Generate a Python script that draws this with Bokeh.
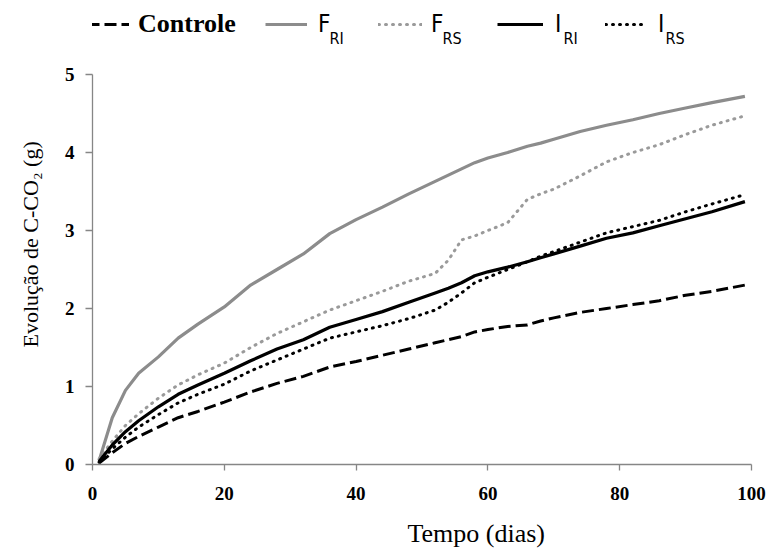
from bokeh.plotting import figure
from bokeh.layouts import column
from bokeh.models import (Range1d, FixedTicker, Legend, LegendItem, Label, Title,
                          ColumnDataSource)
from bokeh.core.properties import value
from bokeh.embed import file_html
from bokeh.resources import INLINE

# ---------------- data ----------------
dias = [1, 3, 5, 7, 10, 13, 16, 20, 24, 28, 32, 36, 40, 44, 48, 52, 54, 56, 58, 60,
        63, 66, 68, 70, 74, 78, 82, 86, 90, 94, 99]
controle = [0.02, 0.15, 0.27, 0.36, 0.48, 0.60, 0.68, 0.80, 0.93, 1.04, 1.13, 1.25, 1.32,
            1.40, 1.48, 1.56, 1.60, 1.64, 1.70, 1.73, 1.77, 1.79, 1.84, 1.88, 1.95, 2.00,
            2.05, 2.10, 2.17, 2.22, 2.30]
f_ri = [0.05, 0.60, 0.95, 1.17, 1.38, 1.62, 1.80, 2.02, 2.30, 2.50, 2.70, 2.96, 3.14,
        3.30, 3.47, 3.63, 3.71, 3.79, 3.87, 3.93, 4.00, 4.08, 4.12, 4.17, 4.27, 4.35,
        4.42, 4.50, 4.57, 4.64, 4.72]
f_rs = [0.07, 0.30, 0.50, 0.65, 0.85, 1.02, 1.15, 1.30, 1.50, 1.68, 1.83, 1.98, 2.10,
        2.22, 2.35, 2.45, 2.62, 2.88, 2.93, 3.00, 3.10, 3.40, 3.47, 3.53, 3.70, 3.88,
        4.00, 4.10, 4.23, 4.35, 4.47]
i_ri = [0.04, 0.25, 0.42, 0.56, 0.74, 0.90, 1.02, 1.17, 1.33, 1.48, 1.60, 1.76, 1.86,
        1.96, 2.08, 2.20, 2.26, 2.33, 2.42, 2.47, 2.53, 2.60, 2.65, 2.70, 2.80, 2.90,
        2.97, 3.06, 3.15, 3.24, 3.37]
i_rs = [0.03, 0.20, 0.35, 0.48, 0.64, 0.79, 0.90, 1.03, 1.20, 1.34, 1.48, 1.62, 1.70,
        1.78, 1.87, 1.98, 2.08, 2.20, 2.33, 2.40, 2.50, 2.60, 2.67, 2.73, 2.85, 2.97,
        3.05, 3.13, 3.24, 3.34, 3.46]
x_ticks = [0, 20, 40, 60, 80, 100]
y_ticks = [0, 1, 2, 3, 4, 5]
x_title = "Tempo (dias)"
y_title = "Evolução de C-CO\u2082 (g)"
series_names = ["controle", "f_ri", "f_rs", "i_ri", "i_rs"]
legend_main = ["Controle", "F", "F", "I", "I"]
legend_sub = ["", "RI", "RS", "RI", "RS"]

src = ColumnDataSource(dict(dias=dias, controle=controle, f_ri=f_ri, f_rs=f_rs,
                            i_ri=i_ri, i_rs=i_rs))

GRAY = "#8c8c8c"
GRAY_DOT = "#9a9a9a"
styles = {
    "controle": dict(line_color="black", line_width=3, line_dash="12 5"),
    "f_ri": dict(line_color=GRAY, line_width=3.2),
    "f_rs": dict(line_color=GRAY_DOT, line_width=3, line_dash="1 6", line_cap="round"),
    "i_ri": dict(line_color="black", line_width=3.2),
    "i_rs": dict(line_color="black", line_width=3, line_dash="1 6", line_cap="round"),
}

W = 769
LEG_H = 62      # legend strip height
XT_H = 36       # x-title strip height
FL, FR = 92, 751
SANS = "'Liberation Sans Narrow', 'DejaVu Sans Condensed', Lato, sans-serif"
SERIF = "Liberation Serif"

# ---------------- main figure ----------------
p = figure(width=W, height=548 - LEG_H - XT_H, x_range=Range1d(0, 100),
           y_range=Range1d(0, 5), output_backend="svg", toolbar_location=None,
           min_border_left=FL, min_border_right=W - FR, min_border_top=12,
           min_border_bottom=48)
p.outline_line_color = None
p.xgrid.visible = False
p.ygrid.visible = False

AX = "#868686"
for ax in (p.xaxis[0], p.yaxis[0]):
    ax.axis_line_color = AX
    ax.axis_line_width = 1.3
    ax.major_tick_line_color = AX
    ax.major_tick_line_width = 1.3
    ax.minor_tick_line_color = None
    ax.major_tick_in = 0
    ax.major_label_text_font = SERIF
    ax.major_label_text_font_style = "bold"
    ax.major_label_text_font_size = "19px"
    ax.major_label_text_color = "black"
p.xaxis.ticker = FixedTicker(ticks=x_ticks)
p.yaxis.ticker = FixedTicker(ticks=y_ticks)
p.xaxis.major_tick_out = 6
p.yaxis.major_tick_out = 7
p.xaxis.major_label_standoff = 16
p.yaxis.major_label_standoff = 11

for name in series_names:
    p.line("dias", name, source=src, **styles[name])

p.add_layout(Title(text=y_title, align="left", offset=117, vertical_align="top",
                   text_font=SERIF, text_font_size="22px", text_font_style="normal",
                   text_color="black", standoff=34), "left")

# ---------------- legend strip ----------------
lg = figure(width=W, height=LEG_H, x_range=Range1d(FL, FR), y_range=Range1d(0, LEG_H),
            output_backend="svg", toolbar_location=None, x_axis_location=None,
            y_axis_location=None, min_border_left=FL, min_border_right=W - FR,
            min_border_top=0, min_border_bottom=0)
lg.outline_line_color = None
lg.xgrid.visible = False
lg.ygrid.visible = False

# swatch left edge, swatch length, gap to text, subscript x (canvas px)
leg_pos = [(87, 42, 9, None), (265, 42, 11, 329), (378, 44, 9, 442),
           (497, 46, 12, 563), (605, 40, 13, 665)]

for name, main, sub, (sx, gw, gap, subx) in zip(series_names, legend_main, legend_sub,
                                                 leg_pos):
    r = lg.line(x=[float("nan")], y=[float("nan")], **styles[name])
    is_serif = name == "controle"
    leg = Legend(items=[LegendItem(label=value(main), renderers=[r])],
                 location=(sx - FL, LEG_H - 39), orientation="horizontal",
                 glyph_width=gw, glyph_height=30, label_width=0, label_height=30,
                 label_standoff=gap,
                 label_text_font=SERIF if is_serif else SANS,
                 label_text_font_size="26px" if is_serif else "24px",
                 label_text_font_style="bold" if is_serif else "normal",
                 label_text_color="black",
                 padding=0, margin=0, spacing=0, border_line_color=None,
                 background_fill_alpha=0)
    lg.add_layout(leg)
    if sub:
        lg.add_layout(Label(x=subx - FL, y=LEG_H - 38, x_units="screen", y_units="screen",
                            text=sub, text_font=SANS, text_font_size="16px",
                            text_align="left", text_baseline="alphabetic",
                            text_color="black"))

# ---------------- x-title strip ----------------
xt = figure(width=W, height=XT_H, x_range=Range1d(FL, FR), y_range=Range1d(0, XT_H),
            output_backend="svg", toolbar_location=None, x_axis_location=None,
            y_axis_location=None, min_border_left=FL, min_border_right=W - FR,
            min_border_top=0, min_border_bottom=0)
xt.outline_line_color = None
xt.xgrid.visible = False
xt.ygrid.visible = False
xt.add_layout(Label(x=407 - FL, y=15, x_units="screen", y_units="screen", text=x_title,
                    text_font=SERIF, text_font_size="26px", text_align="left",
                    text_baseline="alphabetic", text_color="black"))

open("out.html", "w").write(file_html(column(lg, p, xt, spacing=0), INLINE))
